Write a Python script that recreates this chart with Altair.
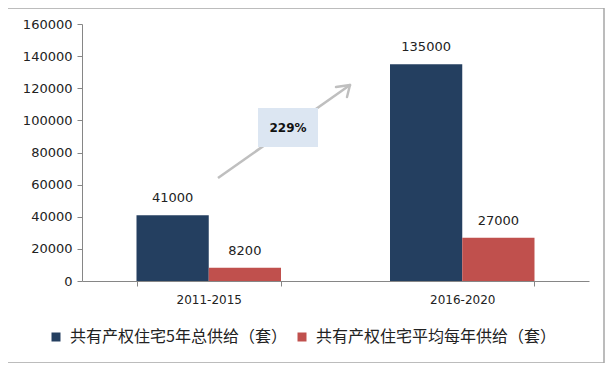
import altair as alt
import pandas as pd

periods = ["2011-2015", "2016-2020"]
series = ["共有产权住宅5年总供给（套）", "共有产权住宅平均每年供给（套）"]
total_supply = [41000, 135000]
annual_supply = [8200, 27000]
colors = ["#243F60", "#C0504D"]
growth_label = ["229%"]
y_ticks = [0, 20000, 40000, 60000, 80000, 100000, 120000, 140000, 160000]

rows = []
for i, p in enumerate(periods):
    rows.append({"period": p, "series": series[0], "value": total_supply[i]})
    rows.append({"period": p, "series": series[1], "value": annual_supply[i]})
df = pd.DataFrame(rows)

NUM_FONT = "DejaVu Sans"
CJK_FONT = "Noto Sans CJK SC"

x_enc = alt.X(
    "period:N",
    sort=periods,
    scale=alt.Scale(paddingInner=0.43, paddingOuter=0.215),
    axis=alt.Axis(
        title=None, labelAngle=0, tickBand="extent", tickSize=5,
        labelFont=NUM_FONT, labelFontSize=12, labelColor="#222222",
        labelPadding=8, domainColor="#868686", tickColor="#868686",
        domainWidth=1, labelOverlap=False,
    ),
)
y_enc = alt.Y(
    "value:Q",
    scale=alt.Scale(domain=[0, 160000], nice=False),
    axis=alt.Axis(
        title=None, values=y_ticks, grid=False, format="d", tickSize=5,
        labelFont=NUM_FONT, labelFontSize=13, labelColor="#222222",
        labelPadding=5, domainColor="#868686", tickColor="#868686",
        labelOverlap=False, labelSeparation=0,
    ),
)
xo_enc = alt.XOffset("series:N", sort=series)

base = alt.Chart(df)

bars = base.mark_bar().encode(
    x=x_enc,
    xOffset=xo_enc,
    y=y_enc,
    color=alt.Color(
        "series:N",
        sort=series,
        scale=alt.Scale(domain=series, range=colors),
        legend=alt.Legend(
            title=None, orient="none", legendX=-34, legendY=305,
            direction="horizontal", symbolType="square", symbolSize=81,
            symbolStrokeWidth=0, labelFont=CJK_FONT, labelFontSize=16,
            labelColor="#222222", labelLimit=0, columnPadding=7,
            labelOffset=6,
        ),
    ),
)

labels = base.mark_text(
    baseline="bottom", dy=-10, font=NUM_FONT, fontSize=13, color="#222222"
).encode(
    x=x_enc,
    xOffset=xo_enc,
    y=y_enc,
    text=alt.Text("value:Q", format="d"),
)

ann = alt.Chart(pd.DataFrame({"label": growth_label}))

arrow_line = ann.mark_rule(color="#BFBFBF", strokeWidth=2.5).encode(
    x=alt.value(136), y=alt.value(154), x2=alt.value(268), y2=alt.value(61)
)
arrow_arm1 = ann.mark_rule(color="#BFBFBF", strokeWidth=2.5, strokeCap="round").encode(
    x=alt.value(268), y=alt.value(61), x2=alt.value(254), y2=alt.value(63)
)
arrow_arm2 = ann.mark_rule(color="#BFBFBF", strokeWidth=2.5, strokeCap="round").encode(
    x=alt.value(268), y=alt.value(61), x2=alt.value(265), y2=alt.value(73)
)
box = ann.mark_rect(color="#DCE6F2").encode(
    x=alt.value(176), x2=alt.value(236), y=alt.value(84), y2=alt.value(123)
)
box_text = ann.mark_text(
    font=NUM_FONT, fontSize=12, fontWeight="bold", color="#111111"
).encode(
    x=alt.value(206), y=alt.value(104), text="label:N"
)
border = ann.mark_rect(
    fillOpacity=0, stroke="#A6A6A6", strokeWidth=1.5
).encode(
    x=alt.value(-75), x2=alt.value(522), y=alt.value(-16), y2=alt.value(339)
)

chart = alt.layer(
    border, bars, labels, arrow_line, arrow_arm1, arrow_arm2, box, box_text
).properties(
    width=507,
    height=257,
    autosize=alt.AutoSizeParams(type="none"),
    padding={"left": 74, "top": 16, "right": 16, "bottom": 82},
    background="white",
).configure_view(stroke=None).configure_axis(labelOverlap=False)

chart.save("out.html", embed_options={"renderer": "svg", "actions": False})
